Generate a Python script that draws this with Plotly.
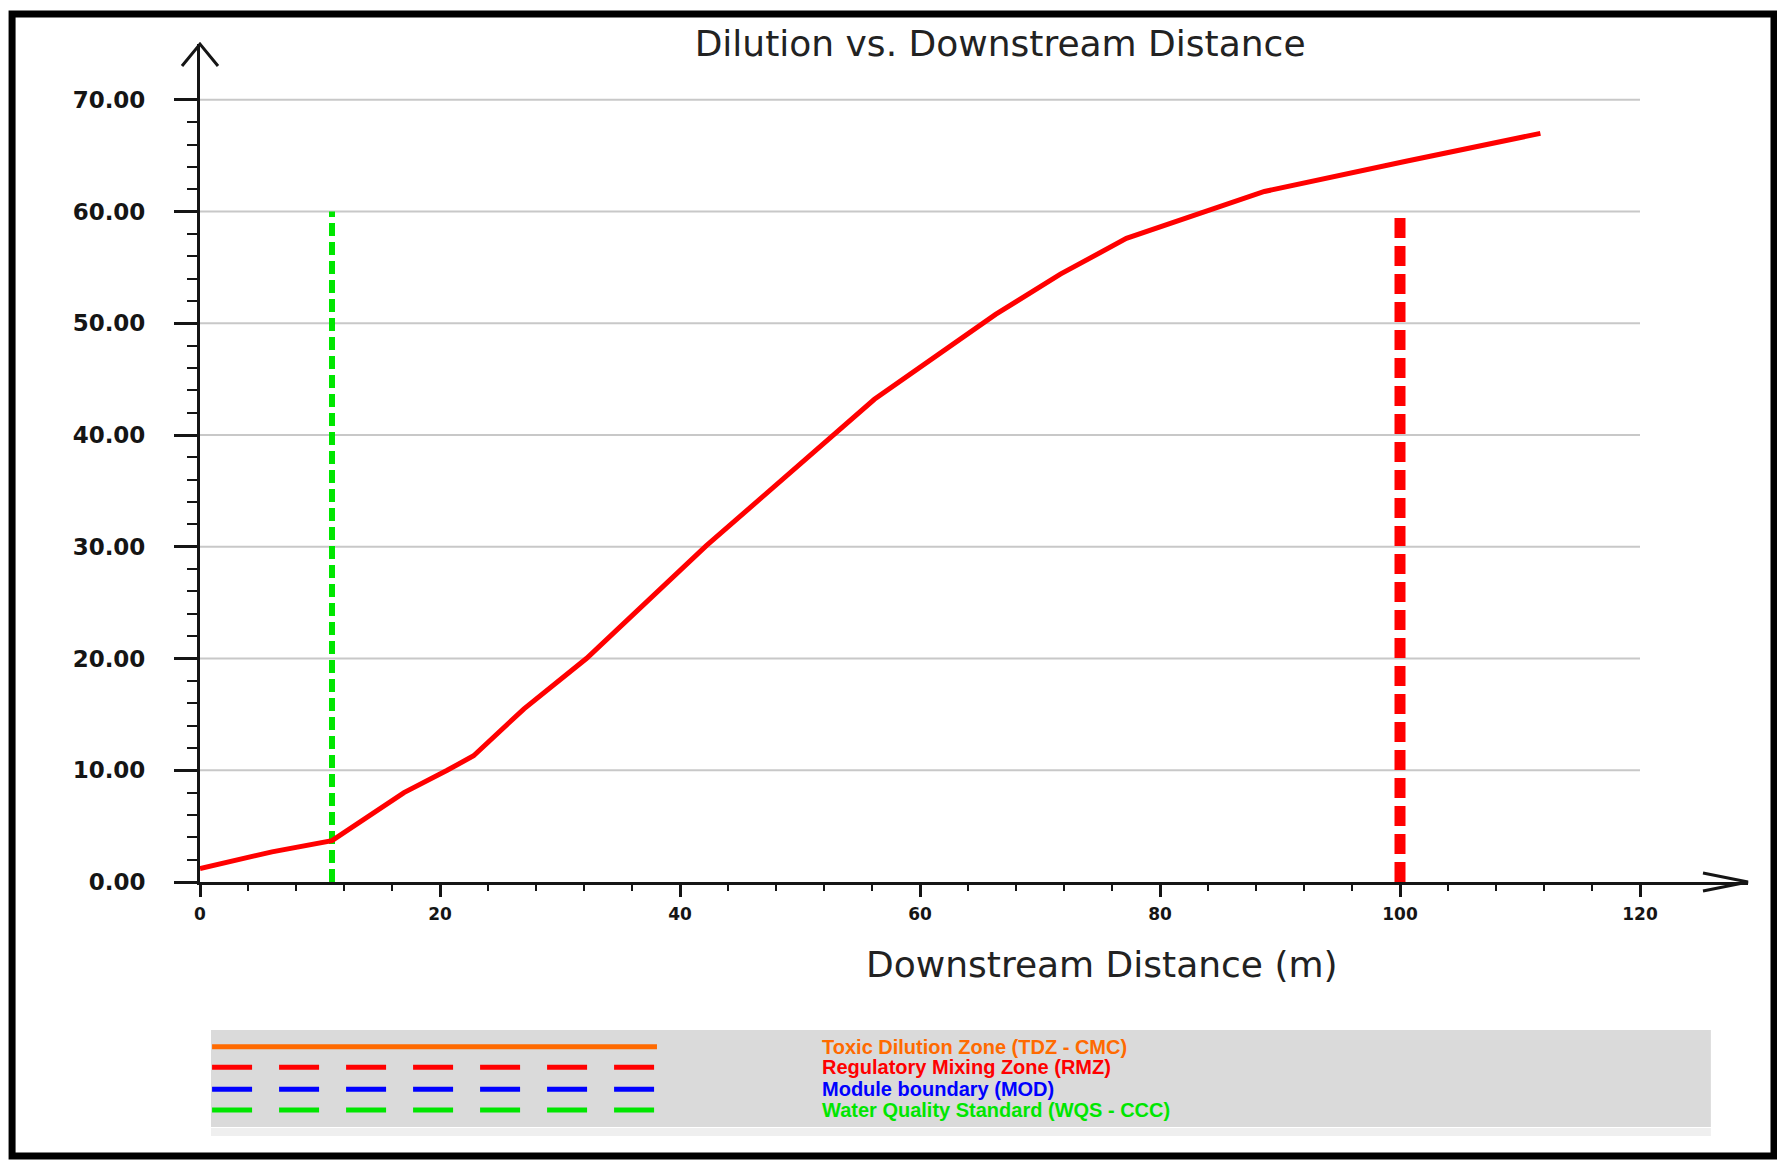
import plotly.graph_objects as go

# dilution curve
distance = [0, 6, 11, 17, 20.6, 22.8, 27, 32.2, 42.2, 52.7, 56.2, 66.3, 71.7, 77.2, 83.6, 88.7, 100.5, 111.7]
dilution = [1.2, 2.7, 3.7, 8.0, 10.0, 11.3, 15.5, 20.0, 30.1, 39.9, 43.2, 50.8, 54.4, 57.6, 60.0, 61.8, 64.5, 67.0]

wqs_distance = 11.0
rmz_distance = 100.0
boundary_top = 60

y_ticks = [0, 10, 20, 30, 40, 50, 60, 70]
x_ticks = [0, 20, 40, 60, 80, 100, 120]
y_minor = list(range(0, 71, 2))
x_minor = list(range(0, 121, 4))

legend_labels = [
    "Toxic Dilution Zone (TDZ - CMC)",
    "Regulatory Mixing Zone (RMZ)",
    "Module boundary (MOD)",
    "Water Quality Standard (WQS - CCC)",
]
legend_colors = ["#ff6a00", "#ff0000", "#0000ff", "#00e600"]
legend_dash = ["solid", "40px,27px", "40px,27px", "40px,27px"]

AXIS = "#151515"

fig = go.Figure()

fig.add_trace(go.Scatter(x=[wqs_distance, wqs_distance], y=[0, boundary_top], mode="lines",
                         line=dict(color="#00e600", width=6, dash="13px,6px")))
fig.add_trace(go.Scatter(x=[rmz_distance, rmz_distance], y=[0, boundary_top], mode="lines",
                         line=dict(color="#ff0000", width=11, dash="20px,8px")))
fig.add_trace(go.Scatter(x=distance, y=dilution, mode="lines",
                         line=dict(color="#ff0000", width=5)))

shapes = []
# grid lines only span 0-120 m
for v in y_ticks[1:]:
    shapes.append(dict(type="line", xref="x", yref="y", x0=0, x1=x_ticks[-1], y0=v, y1=v,
                       line=dict(color="#c8c8c8", width=2), layer="below"))

# axis arrow heads
shapes.append(dict(type="path", xref="paper", yref="paper", xsizemode="pixel", ysizemode="pixel",
                   xanchor=0, yanchor=1, path="M -18 -22 L 0 0 L 18 -22",
                   line=dict(color=AXIS, width=3)))
shapes.append(dict(type="path", xref="paper", yref="paper", xsizemode="pixel", ysizemode="pixel",
                   xanchor=1, yanchor=0, path="M -45 9 L 0 0 L -45 -9",
                   line=dict(color=AXIS, width=3)))

# legend panel
shapes.append(dict(type="rect", xref="paper", yref="paper", x0=0.0071, x1=0.976, y0=-0.3031, y1=-0.2936,
                   fillcolor="#efefef", line=dict(width=0)))
shapes.append(dict(type="rect", xref="paper", yref="paper", x0=0.0071, x1=0.976, y0=-0.2924, y1=-0.1766,
                   fillcolor="#dadada", line=dict(width=0)))
legend_y = [-0.1965, -0.2211, -0.2474, -0.2721]
annotations = []
for label, color, dash, ly in zip(legend_labels, legend_colors, legend_dash, legend_y):
    shapes.append(dict(type="line", xref="paper", yref="paper", x0=0.0078, x1=0.2952, y0=ly, y1=ly,
                       line=dict(color=color, width=5, dash=dash)))
    annotations.append(dict(xref="paper", yref="paper", x=0.4005, y=ly, xanchor="left", yanchor="middle",
                            text=label, showarrow=False,
                            font=dict(family="Liberation Sans", size=20, color=color, weight="bold")))

# outer black frame
shapes.append(dict(type="rect", xref="paper", yref="paper", x0=-0.1214, x1=1.0168, y0=-0.327, y1=1.0358,
                   line=dict(color="black", width=7)))

annotations.append(dict(xref="paper", yref="paper", x=0.5827, y=-0.099, xanchor="center", yanchor="middle",
                        text="Downstream Distance (m)", showarrow=False,
                        font=dict(family="DejaVu Sans", size=36, color="#222")))

# page body has an 8px margin, so the figure is 8px smaller than the window
fig.update_layout(
    width=1777, height=1152,
    margin=dict(l=192, r=37, t=36, b=278),
    paper_bgcolor="white", plot_bgcolor="white",
    showlegend=False,
    title=dict(text="Dilution vs. Downstream Distance", x=0.5583, y=0.9696,
               xanchor="center", yanchor="middle", xref="container", yref="container",
               font=dict(family="DejaVu Sans", size=36, color="#222")),
    shapes=shapes,
    annotations=annotations,
)

fig.update_xaxes(range=[0, 129], showgrid=False, zeroline=False,
                 showline=True, linecolor=AXIS, linewidth=3,
                 ticks="outside", ticklen=12, tickwidth=3, tickcolor=AXIS,
                 tickvals=x_ticks, ticktext=[str(v) for v in x_ticks],
                 tickfont=dict(family="DejaVu Sans", size=17, color=AXIS, weight="bold"),
                 ticklabelstandoff=3,
                 minor=dict(ticks="outside", ticklen=6, tickwidth=2, tickcolor=AXIS,
                            tickmode="array", tickvals=x_minor, showgrid=False))
fig.update_yaxes(range=[0, 75], showgrid=False, zeroline=False,
                 showline=True, linecolor=AXIS, linewidth=3,
                 ticks="outside", ticklen=23, tickwidth=3, tickcolor=AXIS,
                 tickvals=y_ticks, ticktext=[f"{v:.2f}" for v in y_ticks],
                 tickfont=dict(family="DejaVu Sans", size=23, color=AXIS, weight="bold"),
                 ticklabelstandoff=24,
                 minor=dict(ticks="outside", ticklen=10, tickwidth=2, tickcolor=AXIS,
                            tickmode="array", tickvals=y_minor, showgrid=False))

fig.write_html("out.html")
